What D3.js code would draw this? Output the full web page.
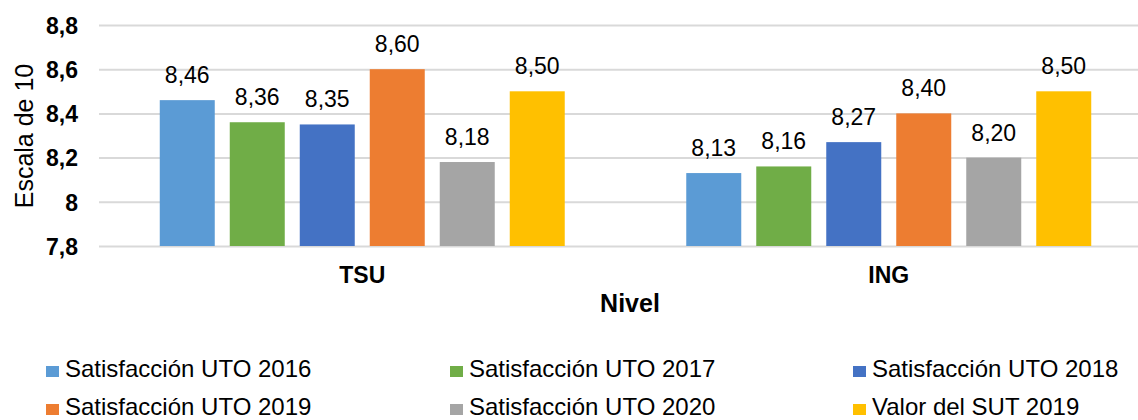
<!DOCTYPE html>
<html>
<head>
<meta charset="utf-8">
<script src="https://cdn.jsdelivr.net/npm/d3@7/dist/d3.min.js"></script>
<style>
  html, body { margin: 0; padding: 0; background: #fff; }
  svg { display: block; font-family: "Liberation Sans", Arial, sans-serif; }
</style>
</head>
<body>
<svg id="chart" width="1138" height="420"></svg>
<script>
const categories = ["TSU", "ING"];
const seriesNames = ["Satisfacción UTO 2016", "Satisfacción UTO 2017", "Satisfacción UTO 2018",
                     "Satisfacción UTO 2019", "Satisfacción UTO 2020", "Valor del SUT 2019"];
const uto2016 = [8.46, 8.13];
const uto2017 = [8.36, 8.16];
const uto2018 = [8.35, 8.27];
const uto2019 = [8.60, 8.40];
const uto2020 = [8.18, 8.20];
const sut2019 = [8.50, 8.50];
const yTicks = [7.8, 8.0, 8.2, 8.4, 8.6, 8.8];
const colors = ["#5B9BD5", "#70AD47", "#4472C4", "#ED7D31", "#A5A5A5", "#FFC000"];

const seriesValues = [uto2016, uto2017, uto2018, uto2019, uto2020, sut2019];

const svg = d3.select("#chart");
const fmt = v => {
  const s = (Math.round(v * 100) / 100).toFixed(2);
  return s.replace(".", ",");
};
const tickFmt = v => {
  const r = Math.round(v * 10) / 10;
  return (Number.isInteger(r) ? String(r) : r.toFixed(1)).replace(".", ",");
};

const y = d3.scaleLinear().domain([7.8, 8.8]).range([246, 25]);
const x0 = d3.scaleBand().domain(categories).range([99, 1152]).paddingInner(0).paddingOuter(0);
const x1 = d3.scaleBand().domain(seriesNames).range([0, x0.bandwidth()])
  .paddingInner(0.2143).paddingOuter(0.868);

// gridlines
const yAxis = d3.axisLeft(y).tickValues(yTicks).tickSize(-(1152 - 99)).tickFormat(tickFmt).tickPadding(21);
const gAxis = svg.append("g").attr("transform", "translate(99,0)").call(yAxis);
gAxis.select(".domain").remove();
gAxis.selectAll(".tick line").attr("stroke", "#D9D9D9").attr("stroke-width", 2);
gAxis.selectAll(".tick text")
  .attr("font-size", 23).attr("font-weight", "bold").attr("fill", "#000")
  .attr("font-family", "'Liberation Sans', Arial, sans-serif").attr("dy", "0.36em");

// bars
const groups = svg.append("g").selectAll("g").data(categories).join("g")
  .attr("transform", d => `translate(${x0(d)},0)`);

groups.each(function(cat, ci) {
  const g = d3.select(this);
  seriesNames.forEach((s, si) => {
    const v = seriesValues[si][ci];
    g.append("rect")
      .attr("x", x1(s)).attr("width", x1.bandwidth())
      .attr("y", y(v)).attr("height", y(7.8) - y(v))
      .attr("fill", colors[si]);
    g.append("text")
      .attr("x", x1(s) + x1.bandwidth() / 2).attr("y", y(v) - 17)
      .attr("text-anchor", "middle").attr("font-size", 23).attr("fill", "#000")
      .text(fmt(v));
  });
});

// category labels
svg.append("g").selectAll("text").data(categories).join("text")
  .attr("x", d => x0(d) + x0.bandwidth() / 2).attr("y", 283)
  .attr("text-anchor", "middle").attr("font-size", 23).attr("font-weight", "bold")
  .text(d => d);

// axis titles
svg.append("text").attr("x", 630).attr("y", 312).attr("text-anchor", "middle")
  .attr("font-size", 25).attr("font-weight", "bold").text("Nivel");
svg.append("text").attr("transform", "translate(33,136) rotate(-90)")
  .attr("text-anchor", "middle").attr("font-size", 25).text("Escala de 10");

// legend
const colX = [46, 450, 853];
const rowY = [377, 415];
const leg = svg.append("g").selectAll("g").data(seriesNames).join("g")
  .attr("transform", (d, i) => `translate(${colX[i % 3]},${rowY[Math.floor(i / 3)]})`);
leg.append("rect").attr("x", 0).attr("y", -11).attr("width", 13).attr("height", 11)
  .attr("fill", (d, i) => colors[i]);
leg.append("text").attr("x", 19).attr("y", 0).attr("font-size", 24).attr("fill", "#000")
  .text(d => d);
</script>
</body>
</html>
